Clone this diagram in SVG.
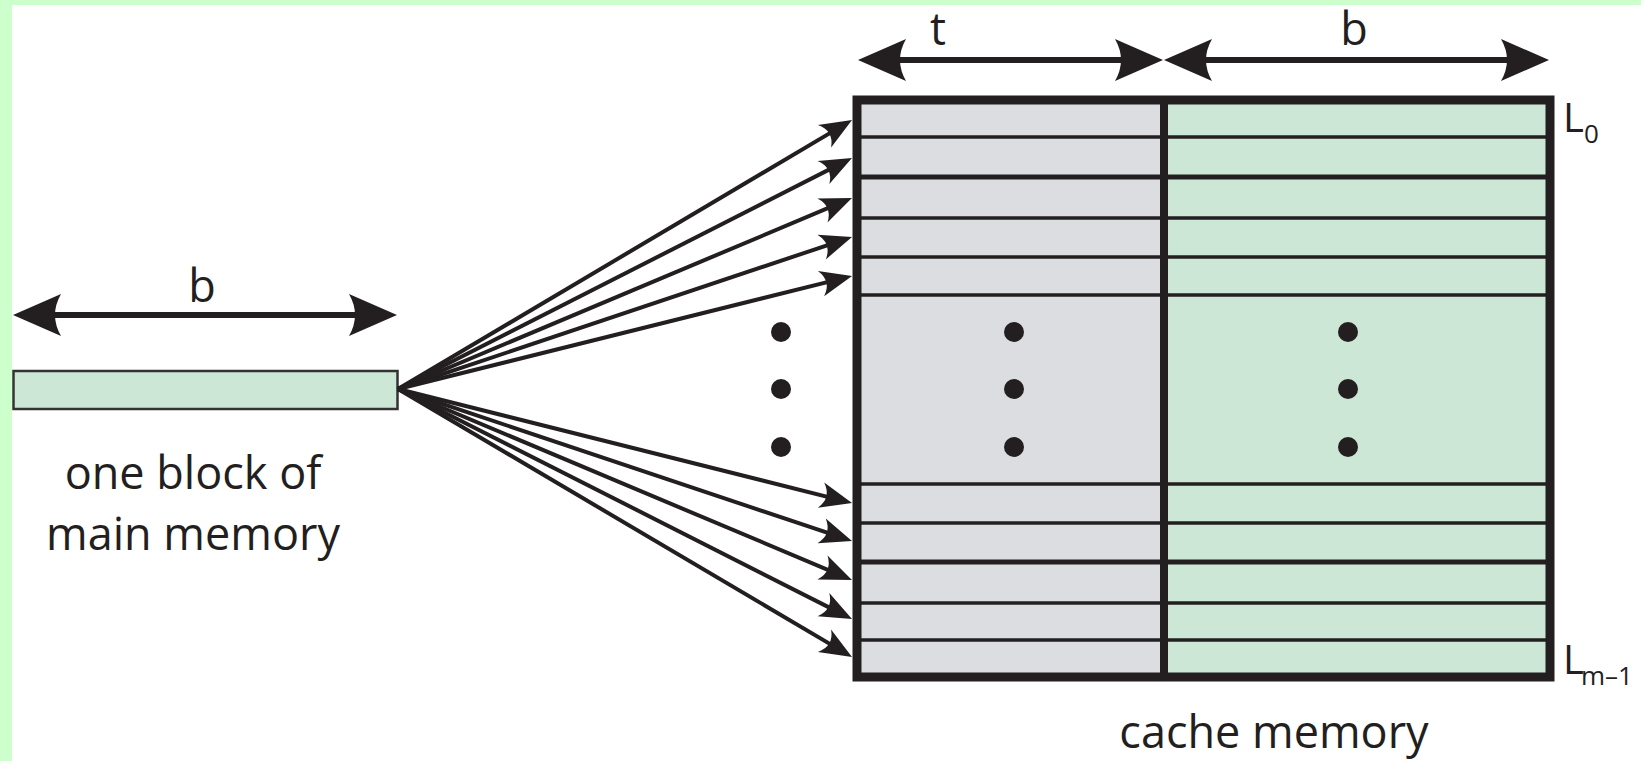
<svg xmlns="http://www.w3.org/2000/svg" width="1641" height="761" viewBox="0 0 1641 761">
<style>
.txt{font-family:"Open Sans","Liberation Sans",sans-serif;fill:#231f20}
.lbl{font-size:45px;text-anchor:middle}
.dim{stroke:#231f20;stroke-width:6;fill:none}
.fan{stroke:#231f20;stroke-width:4;fill:none;marker-end:url(#ah)}
.sep{stroke:#231f20;stroke-width:3.5}
.sepk{stroke:#231f20;stroke-width:5}
.dot{fill:#231f20}
</style>
<defs>
<marker id="ah" markerUnits="userSpaceOnUse" viewBox="-34 -15 36 30" refX="-12" refY="0" markerWidth="36" markerHeight="30" orient="auto" overflow="visible">
<path d="M0,0 L-32,-13 Q-21,0 -32,13 Z" fill="#231f20"/>
</marker>
<marker id="dh" markerUnits="userSpaceOnUse" viewBox="-52 -24 54 48" refX="-30" refY="0" markerWidth="54" markerHeight="48" orient="auto-start-reverse" overflow="visible">
<path d="M0,0 L-48,-21 Q-36,0 -48,21 Z" fill="#231f20"/>
</marker>
</defs>
<rect x="0" y="0" width="1641" height="761" fill="#ffffff"/>
<rect x="0" y="0" width="1641" height="5" fill="#ccffcc"/>
<rect x="0" y="0" width="12" height="761" fill="#ccffcc"/>

<g id="main-block">
<rect x="13.5" y="371" width="384" height="38" fill="#cce7d5" stroke="#333333" stroke-width="2.5"/>
<text class="txt lbl" x="193" y="489">one block of</text>
<text class="txt lbl" x="193" y="550">main memory</text>
</g>

<g id="cache">
<rect x="857" y="100" width="307" height="577" fill="#dcdde0"/>
<rect x="1164" y="100" width="386" height="577" fill="#cce7d5"/>
<g>
<line class="sep" x1="857" y1="137" x2="1550" y2="137"/>
<line class="sepk" x1="857" y1="177" x2="1550" y2="177"/>
<line class="sep" x1="857" y1="218" x2="1550" y2="218"/>
<line class="sep" x1="857" y1="257" x2="1550" y2="257"/>
<line class="sep" x1="857" y1="295" x2="1550" y2="295"/>
<line class="sep" x1="857" y1="484" x2="1550" y2="484"/>
<line class="sep" x1="857" y1="523" x2="1550" y2="523"/>
<line class="sepk" x1="857" y1="562" x2="1550" y2="562"/>
<line class="sep" x1="857" y1="603" x2="1550" y2="603"/>
<line class="sep" x1="857" y1="640" x2="1550" y2="640"/>
</g>
<line x1="1164" y1="100" x2="1164" y2="677" stroke="#231f20" stroke-width="8"/>
<rect x="857" y="100" width="693" height="577" fill="none" stroke="#231f20" stroke-width="9"/>
<circle class="dot" cx="1014" cy="332" r="10"/>
<circle class="dot" cx="1014" cy="389" r="10"/>
<circle class="dot" cx="1014" cy="447" r="10"/>
<circle class="dot" cx="1348" cy="332" r="10"/>
<circle class="dot" cx="1348" cy="389" r="10"/>
<circle class="dot" cx="1348" cy="447" r="10"/>
<text class="txt" x="1563" y="132" font-size="40">L</text>
<text class="txt" x="1584" y="143" font-size="26">0</text>
<text class="txt" x="1563" y="674" font-size="40">L</text>
<text class="txt" x="1581" y="685" font-size="26">m–1</text>
<text class="txt lbl" x="1274" y="748">cache memory</text>
</g>

<g id="ellipsis">
<circle class="dot" cx="781" cy="332" r="10"/>
<circle class="dot" cx="781" cy="389" r="10"/>
<circle class="dot" cx="781" cy="447" r="10"/>
</g>

<g id="dimensions">
<line class="dim" x1="43" y1="315" x2="367" y2="315" marker-start="url(#dh)" marker-end="url(#dh)"/>
<text class="txt lbl" x="202" y="302">b</text>
<line class="dim" x1="888" y1="60" x2="1133" y2="60" marker-start="url(#dh)" marker-end="url(#dh)"/>
<text class="txt lbl" x="938" y="45">t</text>
<line class="dim" x1="1194" y1="60" x2="1519" y2="60" marker-start="url(#dh)" marker-end="url(#dh)"/>
<text class="txt lbl" x="1354" y="45">b</text>
</g>

<g id="connectors">
<line class="fan" x1="398" y1="389" x2="841.7" y2="126.1"/>
<line class="fan" x1="398" y1="389" x2="841.3" y2="163.4"/>
<line class="fan" x1="398" y1="389" x2="840.9" y2="202.7"/>
<line class="fan" x1="398" y1="389" x2="840.6" y2="240.8"/>
<line class="fan" x1="398" y1="389" x2="840.4" y2="278.9"/>
<line class="fan" x1="398" y1="389" x2="840.4" y2="500.1"/>
<line class="fan" x1="398" y1="389" x2="840.6" y2="537.2"/>
<line class="fan" x1="398" y1="389" x2="840.9" y2="575.3"/>
<line class="fan" x1="398" y1="389" x2="841.3" y2="613.6"/>
<line class="fan" x1="398" y1="389" x2="841.7" y2="650.9"/>
</g>
</svg>
